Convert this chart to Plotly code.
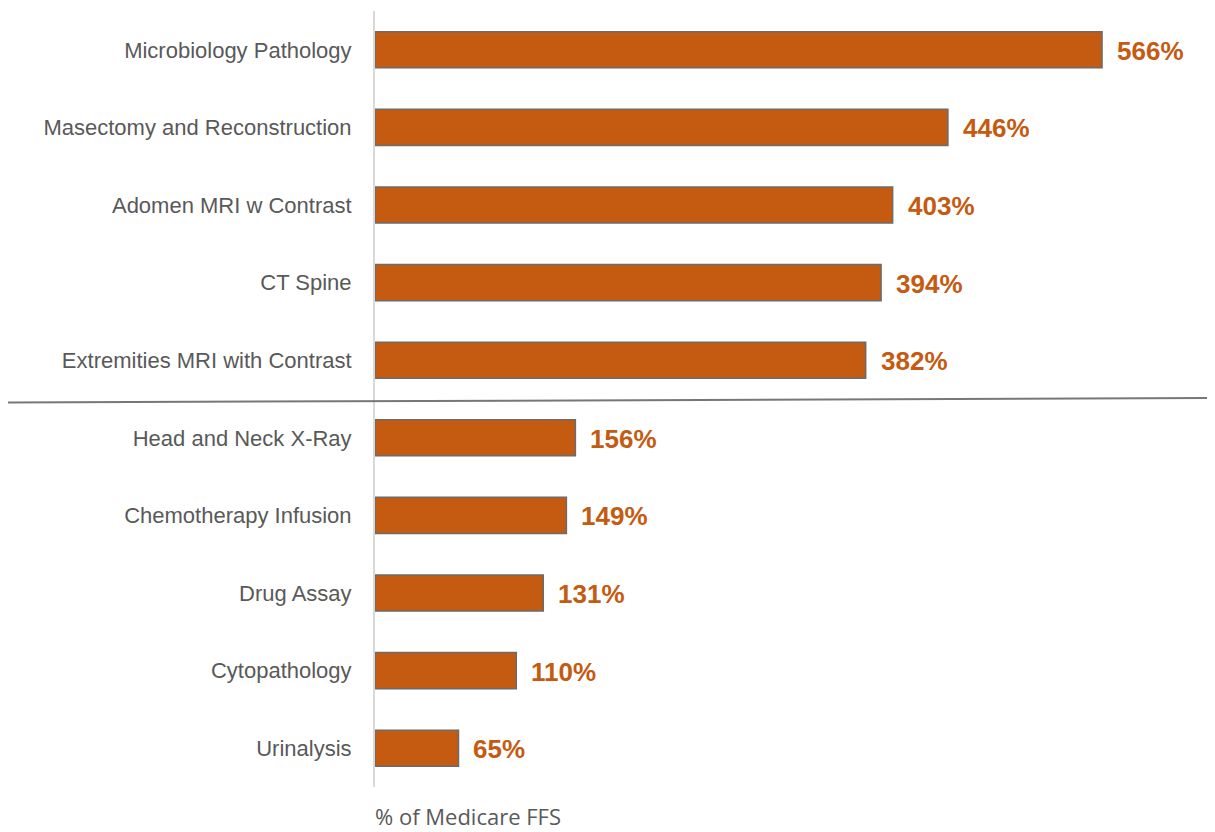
import plotly.graph_objects as go

categories = ["Microbiology Pathology", "Masectomy and Reconstruction", "Adomen MRI w Contrast",
              "CT Spine", "Extremities MRI with Contrast", "Head and Neck X-Ray",
              "Chemotherapy Infusion", "Drug Assay", "Cytopathology", "Urinalysis"]
values = [566, 446, 403, 394, 382, 156, 149, 131, 110, 65]
value_labels = [f"{v}%" for v in values]
axis_title = "% of Medicare FFS"

# page is offset by the body margin (8px), so figure coordinates = page - 8
OFF = 8
W, H = 1215 - OFF, 832 - OFF
L, R, T, B = 375 - OFF, 0, 11 - OFF, 45
plot_h = H - T - B
plot_w = W - L - R

def py(page_y):
    return (H - B - (page_y - OFF)) / plot_h

fig = go.Figure()
fig.add_trace(go.Bar(
    y=categories, x=values, orientation="h",
    marker=dict(color="#C55A11", line=dict(color="#6b6b6b", width=1.5)),
    width=0.465, hoverinfo="skip",
))

for c, v, lab in zip(categories, values, value_labels):
    fig.add_annotation(x=v, y=c, text=f"<b>{lab}</b>", showarrow=False,
                       xanchor="left", yanchor="middle", xshift=13, yshift=-1,
                       font=dict(family="Liberation Sans, Arial, sans-serif",
                                 size=26, color="#C55A11"))

fig.add_annotation(x=0, xref="x", y=py(816), yref="paper",
                   text=axis_title, showarrow=False, xanchor="left", yanchor="middle",
                   xshift=-1, borderpad=0,
                   font=dict(family="Open Sans, sans-serif", size=22, color="#595959"))

fig.add_shape(type="line", xref="paper", yref="paper",
              x0=(8 - 375) / plot_w, x1=1.0,
              y0=py(402.5), y1=py(398),
              line=dict(color="#7a7676", width=2))

fig.update_layout(
    width=W, height=H, margin=dict(l=L, r=R, t=T, b=B, autoexpand=False),
    paper_bgcolor="white", plot_bgcolor="white", showlegend=False,
    xaxis=dict(range=[0, plot_w / 1.2845], visible=False, fixedrange=True),
    yaxis=dict(categoryorder="array", categoryarray=categories, autorange="reversed",
               showline=True, linecolor="#d9d9d9", linewidth=2, showgrid=False,
               ticks="", ticklabelstandoff=17,
               tickfont=dict(family="Liberation Sans, Arial, sans-serif",
                             size=22, color="#595959")),
)

fig.write_html("out.html")
